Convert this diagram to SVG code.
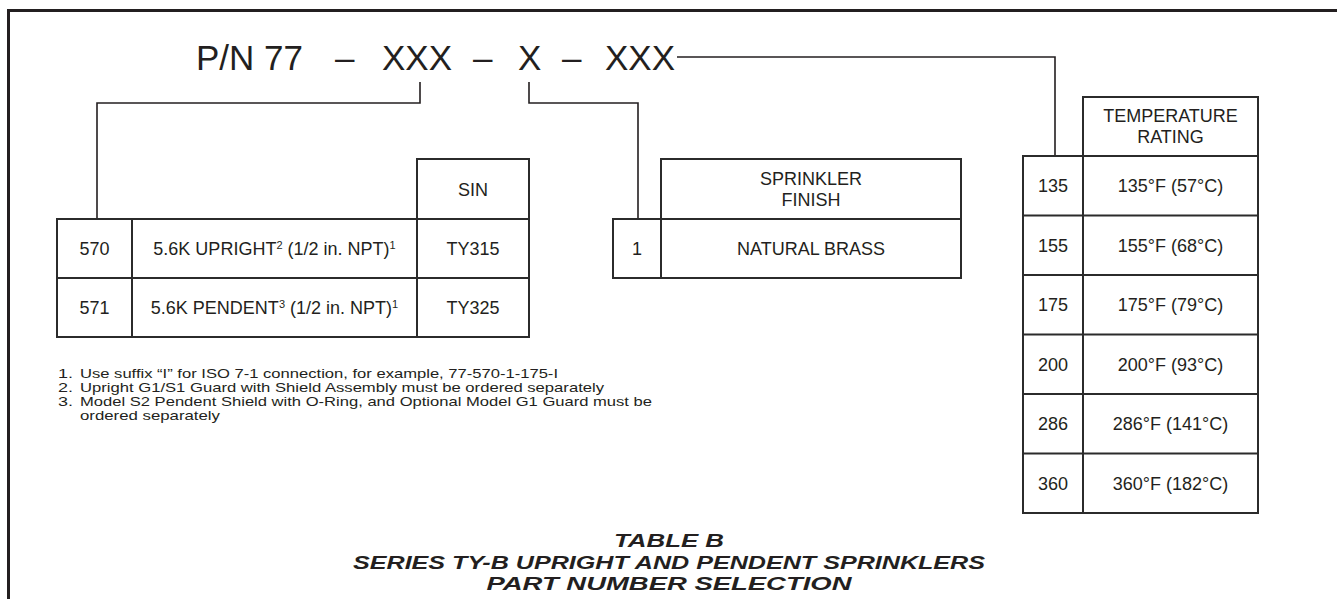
<svg xmlns="http://www.w3.org/2000/svg" width="1337" height="599" viewBox="0 0 1337 599">
<style>
.ln{fill:none;stroke:#231f20;stroke-width:1.6}
.cell{fill:none;stroke:#2b2b2b;stroke-width:2}
.t{font-family:"Liberation Sans",Arial,sans-serif;font-size:18px;fill:#231f20;text-anchor:middle}
.fn{font-family:"Liberation Sans",Arial,sans-serif;font-size:13px;fill:#231f20}
.ttl{font-family:"Liberation Sans",Arial,sans-serif;font-size:18.5px;font-weight:bold;font-style:italic;fill:#231f20;text-anchor:middle}
.pn{font-family:"Liberation Sans",Arial,sans-serif;font-size:35px;fill:#231f20}
</style>
<rect width="1337" height="599" fill="#ffffff"/>
<path d="M8.5,599 V10.5 H1337" fill="none" stroke="#231f20" stroke-width="3"/>

<g id="part-number">
<text class="pn" y="70"><tspan x="196">P/N 77</tspan><tspan x="335">–</tspan><tspan x="382">XXX</tspan><tspan x="473">–</tspan><tspan x="518">X</tspan><tspan x="562">–</tspan><tspan x="605">XXX</tspan></text>
</g>

<g id="connectors">
<path class="ln" d="M420,82 V103 H97 V219"/>
<path class="ln" d="M529,82 V103 H638 V219"/>
<path class="ln" d="M677,57 H1055 V156"/>
</g>

<g id="model-table">
<rect class="cell" x="417" y="159" width="112" height="60"/>
<rect class="cell" x="57" y="219" width="472" height="118"/>
<path class="cell" d="M57,278 H529 M132,219 V337 M417,219 V337"/>
<text class="t" x="473" y="195.5">SIN</text>
<text class="t" x="94.5" y="255">570</text>
<text class="t" x="274.5" y="255">5.6K UPRIGHT<tspan font-size="11" dy="-6.5">2</tspan><tspan dy="6.5"> (1/2 in. NPT)</tspan><tspan font-size="11" dy="-6.5">1</tspan></text>
<text class="t" x="473" y="255">TY315</text>
<text class="t" x="94.5" y="314">571</text>
<text class="t" x="274.5" y="314">5.6K PENDENT<tspan font-size="11" dy="-6.5">3</tspan><tspan dy="6.5"> (1/2 in. NPT)</tspan><tspan font-size="11" dy="-6.5">1</tspan></text>
<text class="t" x="473" y="314">TY325</text>
</g>

<g id="finish-table">
<rect class="cell" x="661" y="159" width="300" height="60"/>
<rect class="cell" x="613" y="219" width="348" height="59"/>
<path class="cell" d="M661,219 V278"/>
<text class="t" x="811" y="185">SPRINKLER</text>
<text class="t" x="811" y="206">FINISH</text>
<text class="t" x="637" y="255">1</text>
<text class="t" x="811" y="255">NATURAL BRASS</text>
</g>

<g id="temperature-table">
<rect class="cell" x="1083" y="97" width="175" height="59"/>
<rect class="cell" x="1023" y="156" width="235" height="357"/>
<path class="cell" d="M1083,156 V513 M1023,215.5 H1258 M1023,275 H1258 M1023,334.5 H1258 M1023,394 H1258 M1023,453.5 H1258"/>
<text class="t" x="1170.5" y="122">TEMPERATURE</text>
<text class="t" x="1170.5" y="142.5">RATING</text>
<text class="t" x="1053" y="192">135</text>
<text class="t" x="1170.5" y="192">135°F (57°C)</text>
<text class="t" x="1053" y="251.5">155</text>
<text class="t" x="1170.5" y="251.5">155°F (68°C)</text>
<text class="t" x="1053" y="311">175</text>
<text class="t" x="1170.5" y="311">175°F (79°C)</text>
<text class="t" x="1053" y="370.5">200</text>
<text class="t" x="1170.5" y="370.5">200°F (93°C)</text>
<text class="t" x="1053" y="430">286</text>
<text class="t" x="1170.5" y="430">286°F (141°C)</text>
<text class="t" x="1053" y="489.5">360</text>
<text class="t" x="1170.5" y="489.5">360°F (182°C)</text>
</g>

<g id="footnotes">
<text class="fn" x="58" y="378" textLength="15" lengthAdjust="spacingAndGlyphs">1.</text>
<text class="fn" x="80" y="378" textLength="478" lengthAdjust="spacingAndGlyphs">Use suffix “I” for ISO 7-1 connection, for example, 77-570-1-175-I</text>
<text class="fn" x="58" y="392" textLength="15" lengthAdjust="spacingAndGlyphs">2.</text>
<text class="fn" x="80" y="392" textLength="524" lengthAdjust="spacingAndGlyphs">Upright G1/S1 Guard with Shield Assembly must be ordered separately</text>
<text class="fn" x="58" y="406" textLength="15" lengthAdjust="spacingAndGlyphs">3.</text>
<text class="fn" x="80" y="406" textLength="572" lengthAdjust="spacingAndGlyphs">Model S2 Pendent Shield with O-Ring, and Optional Model G1 Guard must be</text>
<text class="fn" x="80" y="420" textLength="140" lengthAdjust="spacingAndGlyphs">ordered separately</text>
</g>

<g id="caption">
<text class="ttl" x="669" y="547" textLength="110" lengthAdjust="spacingAndGlyphs">TABLE B</text>
<text class="ttl" x="669" y="568.5" textLength="632" lengthAdjust="spacingAndGlyphs">SERIES TY-B UPRIGHT AND PENDENT SPRINKLERS</text>
<text class="ttl" x="669" y="590" textLength="365" lengthAdjust="spacingAndGlyphs">PART NUMBER SELECTION</text>
</g>
</svg>
